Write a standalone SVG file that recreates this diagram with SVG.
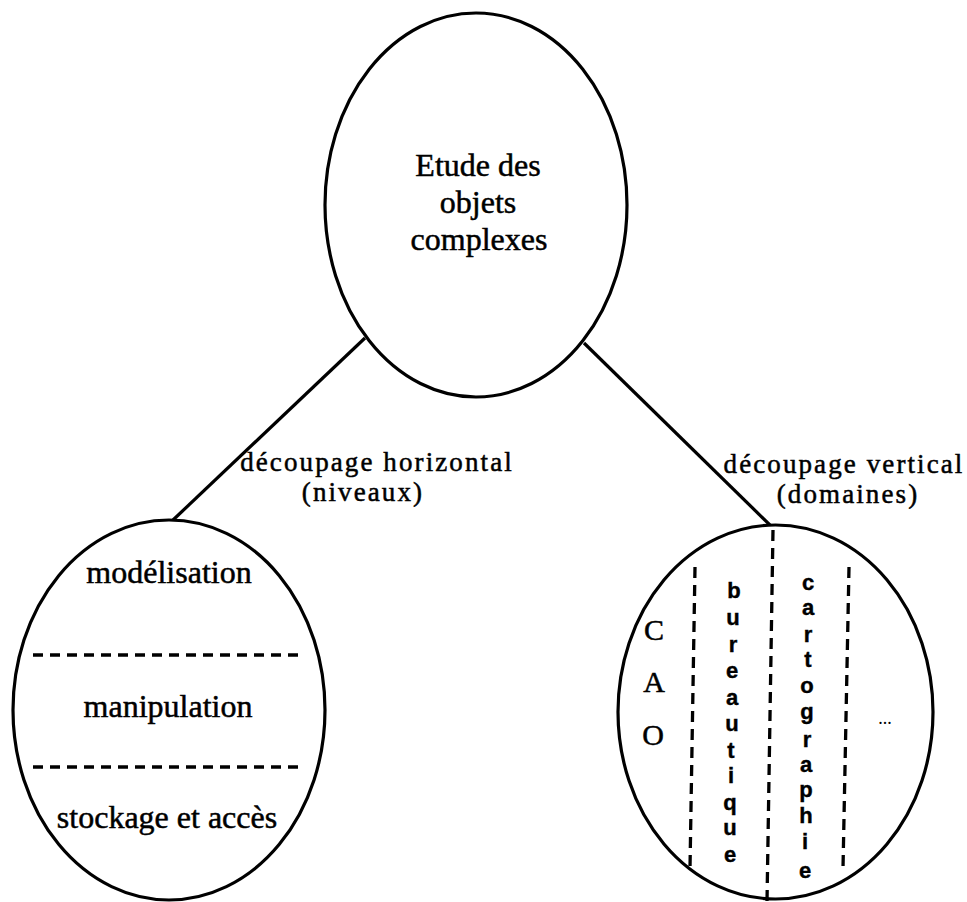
<svg xmlns="http://www.w3.org/2000/svg" width="967" height="902" viewBox="0 0 967 902">
  <style>
    .shape { fill: #ffffff; stroke: #000000; stroke-width: 3.2; }
    .edge { stroke: #000000; stroke-width: 3.2; fill: none; }
    .dash { stroke: #000000; stroke-width: 3.3; fill: none; stroke-dasharray: 10 7; }
    .vdash { stroke: #000000; stroke-width: 3.3; fill: none; stroke-dasharray: 11 7; }
    .lbl { font-family: "Liberation Serif", "Times New Roman", serif; font-size: 32px; fill: #000000; stroke: #000000; stroke-width: 0.5; text-anchor: middle; }
    .elbl { font-family: "Liberation Serif", "Times New Roman", serif; font-size: 27px; letter-spacing: 2.1px; fill: #000000; stroke: #000000; stroke-width: 0.5; text-anchor: middle; }
    .cap { font-family: "Liberation Serif", "Times New Roman", serif; font-size: 30px; fill: #000000; stroke: #000000; stroke-width: 0.5; text-anchor: middle; }
    .vl { font-family: "Liberation Sans", Arial, sans-serif; font-size: 22px; font-weight: bold; fill: #000000; stroke: #000000; stroke-width: 0.4; text-anchor: middle; }
    .dots { font-family: "Liberation Serif", "Times New Roman", serif; font-size: 18px; fill: #000000; text-anchor: middle; }
  </style>
  <rect x="0" y="0" width="967" height="902" fill="#ffffff"/>

  <g id="connectors">
    <line class="edge" x1="365" y1="338" x2="173" y2="520"/>
    <line class="edge" x1="584" y1="343" x2="772" y2="527"/>
    <g id="label-horizontal">
      <text class="elbl" x="377" y="471">découpage horizontal</text>
      <text class="elbl" x="363" y="501">(niveaux)</text>
    </g>
    <g id="label-vertical">
      <text class="elbl" x="844" y="473">découpage vertical</text>
      <text class="elbl" x="848" y="503">(domaines)</text>
    </g>
  </g>

  <g id="node-root">
    <ellipse class="shape" cx="476" cy="205" rx="151" ry="192"/>
    <text class="lbl" x="478" y="176">Etude des</text>
    <text class="lbl" x="478" y="213">objets</text>
    <text class="lbl" x="479" y="250">complexes</text>
  </g>

  <g id="node-horizontal">
    <ellipse class="shape" cx="169" cy="710" rx="156" ry="190"/>
    <line class="dash" x1="33" y1="655" x2="305" y2="655"/>
    <line class="dash" x1="33" y1="767" x2="305" y2="767"/>
    <text class="lbl" x="169" y="583">modélisation</text>
    <text class="lbl" x="168" y="717">manipulation</text>
    <text class="lbl" x="167" y="828">stockage et accès</text>
  </g>

  <g id="node-vertical">
    <ellipse class="shape" cx="775.5" cy="712" rx="157.5" ry="187"/>
    <line class="vdash" x1="695" y1="567" x2="690" y2="868"/>
    <line class="vdash" x1="773" y1="530" x2="767" y2="902"/>
    <line class="vdash" x1="849" y1="567" x2="843" y2="868"/>
    <g id="cao">
      <text class="cap" x="654" y="640">C</text>
      <text class="cap" x="654" y="692">A</text>
      <text class="cap" x="653" y="745">O</text>
    </g>
    <g id="bureautique">
      <text class="vl" x="734" y="598">b</text>
      <text class="vl" x="733" y="625">u</text>
      <text class="vl" x="733" y="652">r</text>
      <text class="vl" x="732" y="678">e</text>
      <text class="vl" x="732" y="705">a</text>
      <text class="vl" x="732" y="731">u</text>
      <text class="vl" x="731" y="758">t</text>
      <text class="vl" x="731" y="783">i</text>
      <text class="vl" x="730" y="810">q</text>
      <text class="vl" x="730" y="835">u</text>
      <text class="vl" x="730" y="862">e</text>
    </g>
    <g id="cartographie">
      <text class="vl" x="808" y="590">c</text>
      <text class="vl" x="808" y="615">a</text>
      <text class="vl" x="808" y="642">r</text>
      <text class="vl" x="808" y="667">t</text>
      <text class="vl" x="807" y="693">o</text>
      <text class="vl" x="807" y="719">g</text>
      <text class="vl" x="807" y="747">r</text>
      <text class="vl" x="806" y="772">a</text>
      <text class="vl" x="806" y="797">p</text>
      <text class="vl" x="806" y="823">h</text>
      <text class="vl" x="805" y="849">i</text>
      <text class="vl" x="805" y="878">e</text>
    </g>
    <text class="dots" x="885" y="724">...</text>
  </g>
</svg>
